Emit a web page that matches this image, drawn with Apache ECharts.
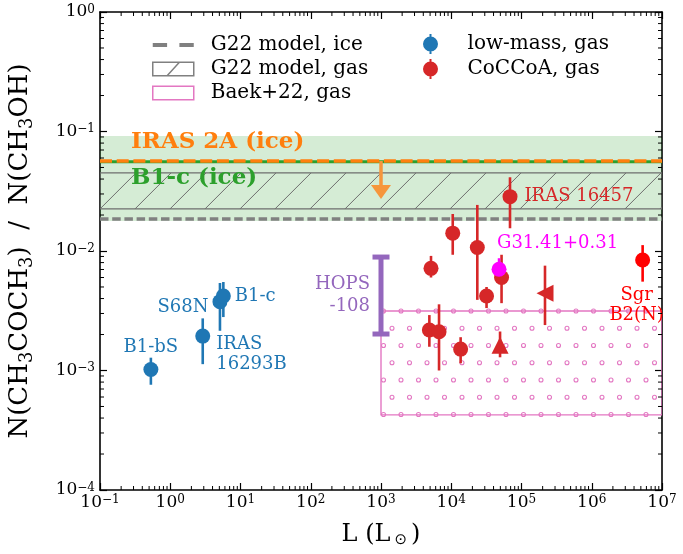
<!DOCTYPE html>
<html>
<head>
<meta charset="utf-8">
<script src="https://cdn.jsdelivr.net/npm/echarts@6.0.0/dist/echarts.min.js"></script>
<style>
  html, body { margin: 0; padding: 0; background: #fff; }
  #chart { width: 683px; height: 554px; }
</style>
</head>
<body>
<div id="chart"></div>
<script>
const FONT = 'DejaVu Serif';

// axis ranges (log)
const xRange = [1e-1, 1e7];
const yRange = [1e-4, 1];

// low-mass protostars, gas
const lowMassNames = ['B1-bS', 'IRAS 16293B', 'S68N', 'B1-c'];
const lowMassL = [0.53, 2.9, 5.1, 5.7];
const lowMassRatio = [1.02e-3, 1.94e-3, 3.77e-3, 4.2e-3];
const lowMassLo = [7.6e-4, 1.13e-3, 2.15e-3, 2.8e-3];
const lowMassHi = [1.28e-3, 2.73e-3, 5.4e-3, 5.5e-3];

// CoCCoA, gas (circles)
const cocNames = ['', '', '', 'IRAS 16457', '', '', '', '', ''];
const cocL = [5.15e3, 1.05e4, 2.35e4, 6.86e4, 5.2e4, 3.18e4, 4.88e3, 6.7e3, 1.36e4];
const cocRatio = [7.16e-3, 1.41e-2, 1.07e-2, 2.85e-2, 6.0e-3, 4.2e-3, 2.18e-3, 2.11e-3, 1.51e-3];
const cocLo = [6.0e-3, 9.3e-3, 3.9e-3, 1.55e-2, 3.66e-3, 3.33e-3, 1.58e-3, 1.0e-3, 1.15e-3];
const cocHi = [9.1e-3, 2.04e-2, 2.43e-2, 4.14e-2, 9.3e-3, 5.0e-3, 2.91e-3, 3.58e-3, 1.9e-3];

// CoCCoA, gas (limits, triangles)
const cocLimL = [2.16e5, 4.95e4];
const cocLimRatio = [4.42e-3, 1.63e-3];
const cocLimLo = [2.4e-3, 1.29e-3];
const cocLimHi = [7.54e-3, 2.12e-3];
const cocLimDir = ['left', 'up'];

// single sources
const sgrB2 = { L: 5.3e6, ratio: 8.4e-3, lo: 5.54e-3, hi: 1.12e-2 };
const g31 = { L: 4.79e4, ratio: 7.03e-3, lo: 6.5e-3, hi: 8.7e-3 };
const hops108 = { L: 1e3, lo: 2.02e-3, hi: 8.9e-3 };

// ice values and model ranges
const g22Ice = 0.0185;
const iras2aIce = 0.0567;
const b1cIce = 0.0558;
const b1cIceBand = [0.0178, 0.0917];
const g22GasBand = [0.0225, 0.045];
const baekBox = { L: [1e3, 1e7], ratio: [4.25e-4, 3.15e-3] };
const iras2aArrow = { L: 1e3, from: 0.0567, to: 0.0272 };

const BLUE = '#1f77b4';
const RED = '#d62728';
const PINK = '#e377c2';

function expLabel(v) {
  const e = Math.round(Math.log10(v));
  return '{b|10}{e|' + (e < 0 ? '\u2212' + (-e) : e) + '}';
}
const tickRich = {
  b: { fontFamily: FONT, fontSize: 17, color: '#000', verticalAlign: 'bottom' },
  e: { fontFamily: FONT, fontSize: 12, color: '#000', verticalAlign: 'top' }
};

function errorBars(color, width, capHalf, text) {
  return function (params, api) {
    const x = api.value(0);
    const a = api.coord([x, api.value(1)]);
    const b = api.coord([x, api.value(2)]);
    const style = { stroke: color, lineWidth: width };
    const children = [{ type: 'line', shape: { x1: a[0], y1: a[1], x2: b[0], y2: b[1] }, style: style }];
    if (capHalf) {
      children.push({ type: 'line', shape: { x1: a[0] - capHalf, y1: a[1], x2: a[0] + capHalf, y2: a[1] }, style: style });
      children.push({ type: 'line', shape: { x1: b[0] - capHalf, y1: b[1], x2: b[0] + capHalf, y2: b[1] }, style: style });
    }
    if (text) {
      children.push({
        type: 'text', x: a[0] - 11, y: (a[1] + b[1]) / 2,
        style: { text: text, fill: color, font: '18px "DejaVu Serif"', align: 'right', verticalAlign: 'middle', lineHeight: 22 }
      });
    }
    return { type: 'group', children: children };
  };
}

function bandRect(fill) {
  return function (params, api) {
    const p0 = api.coord([api.value(0), api.value(3)]);
    const p1 = api.coord([api.value(2), api.value(1)]);
    return { type: 'rect', shape: { x: p0[0], y: p0[1], width: p1[0] - p0[0], height: p1[1] - p0[1] }, style: { fill: fill } };
  };
}

function hatchBox(params, api) {
  const p0 = api.coord([api.value(0), api.value(3)]);
  const p1 = api.coord([api.value(2), api.value(1)]);
  const h = p1[1] - p0[1];
  const c = '#6e6e6e';
  const children = [{ type: 'rect', shape: { x: p0[0], y: p0[1], width: p1[0] - p0[0], height: h }, style: { fill: 'none', stroke: c, lineWidth: 1.2 } }];
  for (let x = p0[0]; x < p1[0]; x += 35) {
    children.push({ type: 'line', shape: { x1: x, y1: p1[1], x2: x + h, y2: p0[1] }, style: { stroke: c, lineWidth: 1 } });
  }
  return { type: 'group', children: children };
}

function dotBox(params, api) {
  const p0 = api.coord([api.value(0), api.value(3)]);
  const p1 = api.coord([api.value(2), api.value(1)]);
  const children = [{ type: 'rect', shape: { x: p0[0], y: p0[1], width: p1[0] - p0[0], height: p1[1] - p0[1] }, style: { fill: 'none', stroke: PINK, lineWidth: 1.4 } }];
  let r = 0;
  for (let y = p0[1]; y <= p1[1] + 0.5; y += 17.25, r++) {
    for (let x = p0[0] + (r % 2 ? 11 : 2.5); x < p1[0]; x += 17.5) {
      children.push({ type: 'circle', shape: { cx: x, cy: y, r: 2 }, style: { fill: 'none', stroke: PINK, lineWidth: 1.1 } });
    }
  }
  return { type: 'group', children: children };
}

function hLine(color, width, dash) {
  return function (params, api) {
    const a = api.coord([xRange[0], api.value(1)]);
    const b = api.coord([xRange[1], api.value(1)]);
    return { type: 'line', shape: { x1: a[0], y1: a[1], x2: b[0], y2: b[1] }, style: { stroke: color, lineWidth: width, lineDash: dash } };
  };
}

function downArrow(params, api) {
  const a = api.coord([api.value(0), api.value(1)]);
  const b = api.coord([api.value(0), api.value(2)]);
  const c = '#f6963c';
  return {
    type: 'group', children: [
      { type: 'line', shape: { x1: a[0], y1: a[1], x2: b[0], y2: b[1] - 12 }, style: { stroke: c, lineWidth: 3.5 } },
      { type: 'polygon', shape: { points: [[b[0] - 10, b[1] - 14], [b[0] + 10, b[1] - 14], [b[0], b[1]]] }, style: { fill: c } }
    ]
  };
}

function minorTicks(params, api) {
  const bl = api.coord([xRange[0], yRange[0]]);
  const tr = api.coord([xRange[1], yRange[1]]);
  const style = { stroke: '#000', lineWidth: 1 };
  const out = [];
  for (let e = -1; e < 7; e++) {
    for (let m = 2; m <= 9; m++) {
      const px = api.coord([m * Math.pow(10, e), yRange[0]])[0];
      out.push({ type: 'line', shape: { x1: px, y1: bl[1], x2: px, y2: bl[1] - 4 }, style: style });
      out.push({ type: 'line', shape: { x1: px, y1: tr[1], x2: px, y2: tr[1] + 4 }, style: style });
    }
  }
  for (let e = -4; e < 0; e++) {
    for (let m = 2; m <= 9; m++) {
      const py = api.coord([xRange[0], m * Math.pow(10, e)])[1];
      out.push({ type: 'line', shape: { x1: bl[0], y1: py, x2: bl[0] + 4, y2: py }, style: style });
      out.push({ type: 'line', shape: { x1: tr[0], y1: py, x2: tr[0] - 4, y2: py }, style: style });
    }
  }
  return { type: 'group', children: out };
}

const lowMassLabels = {
  'B1-bS': { position: 'top', distance: 5 },
  'IRAS 16293B': { position: 'right', distance: 6, offset: [0, 18], formatter: 'IRAS\n16293B' },
  'S68N': { position: 'left', distance: 4, offset: [0, 6] },
  'B1-c': { position: 'right', distance: 4 }
};
const labelText = { fontFamily: FONT, fontSize: 18, lineHeight: 20, formatter: '{b}' };

const lowMassData = lowMassNames.map((n, i) => ({
  name: n, value: [lowMassL[i], lowMassRatio[i]],
  label: Object.assign({ show: true, color: BLUE }, labelText, lowMassLabels[n])
}));
const cocData = cocNames.map((n, i) => ({
  name: n, value: [cocL[i], cocRatio[i]],
  label: Object.assign({ show: n !== '', color: RED, position: 'right', distance: 7 }, labelText)
}));
const cocLimData = cocLimDir.map((d, i) => ({
  value: [cocLimL[i], cocLimRatio[i]],
  symbol: 'triangle', symbolSize: 17, symbolRotate: d === 'left' ? 90 : 0
}));

const circleBar = 'path://M7,0H9V3H7Z M7,17H9V20H7Z M8,2.5A7.5,7.5 0 1,1 8,17.5A7.5,7.5 0 1,1 8,2.5Z';

const option = {
  animation: false,
  backgroundColor: '#fff',
  grid: { left: 100, right: 21, top: 12, bottom: 64, containLabel: false, outerBoundsMode: 'none' },
  legend: [
    {
      orient: 'vertical', left: 147, top: 30, itemWidth: 41, itemHeight: 14, itemGap: 4,
      selectedMode: false,
      textStyle: { fontFamily: FONT, fontSize: 20, color: '#000', padding: [0, 0, 0, 12] },
      data: [
        { name: 'G22 model, ice', icon: 'path://M0,0H14V4H0Z M26,0H40V4H26Z', itemStyle: { color: '#808080' } },
        { name: 'G22 model, gas', icon: 'path://M0,0H40V13H0Z M14,13L26,0', itemStyle: { color: 'rgba(0,0,0,0)', borderColor: '#808080', borderWidth: 1.5 } },
        { name: 'Baek+22, gas', icon: 'path://M0,0H40V13H0Z', itemStyle: { color: 'rgba(0,0,0,0)', borderColor: PINK, borderWidth: 1.5 } }
      ]
    },
    {
      orient: 'vertical', left: 418, top: 29, itemWidth: 16, itemHeight: 20, itemGap: 5,
      selectedMode: false,
      textStyle: { fontFamily: FONT, fontSize: 20, color: '#000', padding: [0, 0, 0, 24] },
      data: [
        { name: 'low-mass, gas', icon: circleBar },
        { name: 'CoCCoA, gas', icon: circleBar }
      ]
    }
  ],
  xAxis: [
    {
      type: 'log', logBase: 10, min: xRange[0], max: xRange[1], position: 'bottom',
      name: 'L (L{s|\u2299})', nameLocation: 'middle', nameGap: 32,
      nameTextStyle: { fontFamily: FONT, fontSize: 24, color: '#000',
        rich: { s: { fontFamily: 'DejaVu Sans', fontSize: 15, color: '#000', padding: [11, 4, 0, 4], verticalAlign: 'top' } } },
      axisLine: { lineStyle: { color: '#000', width: 1.6 } },
      axisTick: { inside: true, length: 7, lineStyle: { color: '#000', width: 1.2 } },
      axisLabel: { margin: 4, formatter: expLabel, rich: tickRich },
      splitLine: { show: false }
    },
    {
      type: 'log', logBase: 10, min: xRange[0], max: xRange[1], position: 'top',
      axisLine: { lineStyle: { color: '#000', width: 1.6 } },
      axisTick: { inside: true, length: 7, lineStyle: { color: '#000', width: 1.2 } },
      axisLabel: { show: false },
      splitLine: { show: false }
    }
  ],
  yAxis: [
    {
      type: 'log', logBase: 10, min: yRange[0], max: yRange[1], position: 'left',
      name: 'N(CH{s|3}COCH{s|3})  /  N(CH{s|3}OH)', nameLocation: 'middle', nameGap: 64,
      nameTextStyle: { fontFamily: FONT, fontSize: 26, color: '#000',
        rich: { s: { fontFamily: FONT, fontSize: 18, color: '#000', padding: [14, 0, 0, 0], verticalAlign: 'top' } } },
      axisLine: { lineStyle: { color: '#000', width: 1.6 } },
      axisTick: { inside: true, length: 7, lineStyle: { color: '#000', width: 1.2 } },
      axisLabel: { margin: 5, formatter: expLabel, rich: tickRich },
      splitLine: { show: false }
    },
    {
      type: 'log', logBase: 10, min: yRange[0], max: yRange[1], position: 'right',
      axisLine: { lineStyle: { color: '#000', width: 1.6 } },
      axisTick: { inside: true, length: 7, lineStyle: { color: '#000', width: 1.2 } },
      axisLabel: { show: false },
      splitLine: { show: false }
    }
  ],
  graphic: [
    { type: 'text', x: 131, y: 142, z: 100, style: { text: 'IRAS 2A (ice)', fill: '#ff7f0e', font: 'bold 23px "DejaVu Serif"', verticalAlign: 'middle' } },
    { type: 'text', x: 131, y: 178, z: 100, style: { text: 'B1-c (ice)', fill: '#2ca02c', font: 'bold 23px "DejaVu Serif"', verticalAlign: 'middle' } }
  ],
  series: [
    {
      type: 'custom', name: 'B1-c ice range', z: 1, clip: true,
      renderItem: bandRect('rgba(44,160,44,0.2)'),
      encode: { x: [0, 2], y: [1, 3] },
      data: [[xRange[0], b1cIceBand[0], xRange[1], b1cIceBand[1]]]
    },
    {
      type: 'custom', name: 'G22 model, gas', z: 2, clip: true,
      itemStyle: { color: '#808080' },
      renderItem: hatchBox,
      encode: { x: [0, 2], y: [1, 3] },
      data: [[xRange[0], g22GasBand[0], xRange[1], g22GasBand[1]]]
    },
    {
      type: 'custom', name: 'Baek+22, gas', z: 2, clip: true,
      itemStyle: { color: PINK },
      renderItem: dotBox,
      encode: { x: [0, 2], y: [1, 3] },
      data: [[baekBox.L[0], baekBox.ratio[0], baekBox.L[1], baekBox.ratio[1]]]
    },
    {
      type: 'custom', name: 'G22 model, ice', z: 3, clip: true,
      itemStyle: { color: '#808080' },
      renderItem: hLine('#808080', 3.5, [8.5, 3.7]),
      encode: { x: 0, y: 1 },
      data: [[1, g22Ice]]
    },
    {
      type: 'custom', name: 'B1-c (ice)', z: 3, clip: true,
      renderItem: hLine('#2ca02c', 3, null),
      encode: { x: 0, y: 1 },
      data: [[1, b1cIce]]
    },
    {
      type: 'custom', name: 'IRAS 2A (ice)', z: 3, clip: true,
      renderItem: hLine('#ff7f0e', 3.5, [12, 4.7]),
      encode: { x: 0, y: 1 },
      data: [[1, iras2aIce]]
    },
    {
      type: 'custom', name: 'IRAS 2A arrow', z: 3,
      renderItem: downArrow,
      encode: { x: 0, y: [1, 2] },
      data: [[iras2aArrow.L, iras2aArrow.from, iras2aArrow.to]]
    },
    {
      type: 'custom', name: 'HOPS-108', z: 4,
      renderItem: errorBars('#9467bd', 5, 8.5, 'HOPS\n-108'),
      encode: { x: 0, y: [1, 2] },
      data: [[hops108.L, hops108.lo, hops108.hi]]
    },
    {
      type: 'custom', name: 'low-mass err', z: 4,
      renderItem: errorBars(BLUE, 2.6),
      encode: { x: 0, y: [1, 2] },
      data: lowMassL.map((x, i) => [x, lowMassLo[i], lowMassHi[i]])
    },
    {
      type: 'custom', name: 'CoCCoA err', z: 4,
      renderItem: errorBars(RED, 2.6),
      encode: { x: 0, y: [1, 2] },
      data: cocL.map((x, i) => [x, cocLo[i], cocHi[i]]).concat(cocLimL.map((x, i) => [x, cocLimLo[i], cocLimHi[i]]))
    },
    {
      type: 'custom', name: 'Sgr err', z: 4,
      renderItem: errorBars('#ff0000', 2.6),
      encode: { x: 0, y: [1, 2] },
      data: [[sgrB2.L, sgrB2.lo, sgrB2.hi]]
    },
    {
      type: 'custom', name: 'G31 err', z: 4,
      renderItem: errorBars('#ff00ff', 2.6),
      encode: { x: 0, y: [1, 2] },
      data: [[g31.L, g31.lo, g31.hi]]
    },
    {
      type: 'scatter', name: 'low-mass, gas', z: 5,
      symbol: 'circle', symbolSize: 15,
      itemStyle: { color: BLUE, opacity: 1 },
      data: lowMassData
    },
    {
      type: 'scatter', name: 'CoCCoA, gas', z: 5,
      symbol: 'circle', symbolSize: 15,
      itemStyle: { color: RED, opacity: 1 },
      data: cocData.concat(cocLimData)
    },
    {
      type: 'scatter', name: 'Sgr B2(N)', z: 5,
      symbol: 'circle', symbolSize: 15,
      itemStyle: { color: '#ff0000', opacity: 1 },
      data: [{
        value: [sgrB2.L, sgrB2.ratio],
        label: Object.assign({}, labelText, { show: true, formatter: 'Sgr\nB2(N)', color: '#ff0000', position: 'bottom', distance: 18, offset: [-6, 0], align: 'center' })
      }]
    },
    {
      type: 'scatter', name: 'G31.41+0.31', z: 6,
      symbol: 'circle', symbolSize: 15,
      itemStyle: { color: '#ff00ff', opacity: 1 },
      data: [{
        value: [g31.L, g31.ratio],
        label: Object.assign({}, labelText, { show: true, formatter: 'G31.41+0.31', color: '#ff00ff', position: [5.5, -18.5], align: 'left', verticalAlign: 'middle' })
      }]
    },
    {
      type: 'custom', name: 'minor ticks', z: 10, clip: false, silent: true,
      renderItem: minorTicks,
      encode: { x: 0, y: 1 },
      data: [[1, 0.01]]
    }
  ]
};

const chart = echarts.init(document.getElementById('chart'));
chart.setOption(option);
</script>
</body>
</html>
